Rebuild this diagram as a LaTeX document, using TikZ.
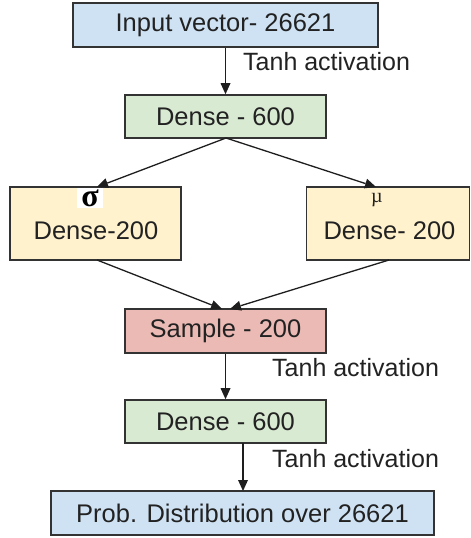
\documentclass[tikz,border=0pt]{standalone}
\usepackage{fontspec}
\setmainfont{Liberation Sans}
\newfontfamily\grk{Liberation Serif}
\usetikzlibrary{calc}
\definecolor{cblue}{HTML}{CFE2F3}
\definecolor{cgreen}{HTML}{D9EAD3}
\definecolor{cyellow}{HTML}{FFF2CC}
\definecolor{cred}{HTML}{EBBAB5}
\definecolor{cline}{HTML}{333333}
\definecolor{ctext}{HTML}{222222}
\definecolor{carrow}{HTML}{1E1E1E}
\tikzset{
  box/.style={draw=cline, line width=1.6pt, inner sep=0pt, text=ctext,
    font=\fontsize{25.5}{28}\selectfont},
  connline/.style={draw=carrow, line width=1.3pt},
  connhead/.style={fill=carrow},
  lbl/.style={anchor=west, inner sep=0pt, text=ctext, font=\fontsize{25}{28}\selectfont},
}
\newcommand\conarrow[2]{%
  \coordinate (hb) at ($(#2)!11pt!(#1)$);
  \coordinate (hl) at ($(hb)!5pt!90:(#2)$);
  \coordinate (hr) at ($(hb)!5pt!-90:(#2)$);
  \draw[connline] (#1) -- (hb);
  \fill[connhead] (#2) -- (hl) -- (hr) -- cycle;}
\begin{document}
\begin{tikzpicture}[x=1pt,y=1pt]
\useasboundingbox (0,0) rectangle (471,-538);
\node[box, fill=cblue, minimum width=305pt, minimum height=44pt] (in) at (225.5,-25) {Input vector- 26621};
\node[box, fill=cgreen, minimum width=201pt, minimum height=43pt] (d1) at (225.5,-116.5) {Dense - 600};
\node[box, fill=cyellow, minimum width=171pt, minimum height=73pt] (sg) at (95.5,-223.5) {};
\node[box, fill=cyellow, minimum width=163pt, minimum height=73pt] (mu) at (388,-223.5) {};
\node[box, fill=cred, minimum width=201pt, minimum height=44pt] (smp) at (225.5,-331) {Sample - 200};
\node[box, fill=cgreen, minimum width=201pt, minimum height=43pt] (d2) at (225.5,-421.5) {Dense - 600};
\node[box, fill=cblue, minimum width=383pt, minimum height=44pt] (out) at (242.5,-513) {Prob. Distribution over 26621};
% inner texts of the yellow boxes
\node[inner sep=0pt, text=ctext, font=\fontsize{25.5}{28}\selectfont] (sgt) at (96,-231) {Dense-200};
\node[inner sep=0pt, text=ctext, font=\fontsize{25.5}{28}\selectfont] (mut) at (389.5,-231) {Dense- 200};
\node[fill=white, inner xsep=4pt, inner ysep=2pt, text=black, font=\grk\bfseries\fontsize{32}{32}\selectfont] (sgs) at (90,-198) {σ};
\node[inner sep=0pt, text=ctext, font=\grk\fontsize{20}{20}\selectfont] (mus) at (377,-200) {µ};
% connector anchors
\coordinate (d1b) at (226,-138);
\coordinate (sgtop) at (97,-187);
\coordinate (mutop) at (376,-187);
\coordinate (sgbot) at (97,-260);
\coordinate (mubot) at (389,-260);
\coordinate (smpl) at (222,-309);
\coordinate (smpr) at (230,-309);
\coordinate (d2b) at (243,-443);
\coordinate (outt) at (243,-491);
\conarrow{in.south}{d1.north}
\conarrow{d1b}{sgtop}
\conarrow{d1b}{mutop}
\conarrow{sgbot}{smpl}
\conarrow{mubot}{smpr}
\conarrow{smp.south}{d2.north}
\conarrow{d2b}{outt}
\node[lbl] (l1) at (243,-62) {Tanh activation};
\node[lbl] (l2) at (272,-368) {Tanh activation};
\node[lbl] (l3) at (272,-459) {Tanh activation};
\end{tikzpicture}
\end{document}
